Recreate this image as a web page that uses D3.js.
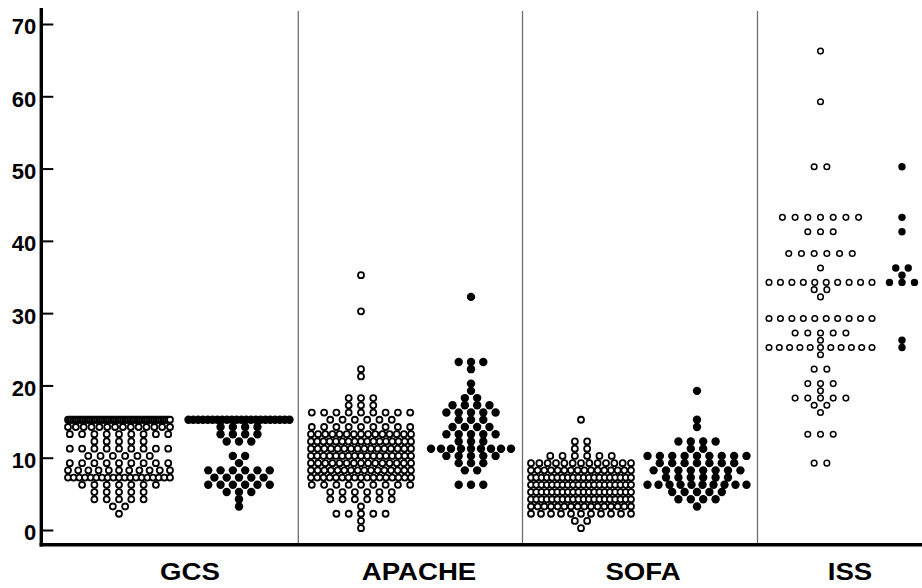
<!DOCTYPE html>
<html>
<head>
<meta charset="utf-8">
<script src="https://cdn.jsdelivr.net/npm/d3@7"></script>
<style>
html, body { margin: 0; padding: 0; background: #fff; }
svg { display: block; font-family: "Liberation Sans", Arial, sans-serif; font-weight: bold; }
</style>
</head>
<body>
<svg id="chart" width="922" height="588"></svg>
<script>
// DATA ---------------------------------------------------------------
const categories = ["GCS", "APACHE", "SOFA", "ISS"];
const yTickValues = [0, 10, 20, 30, 40, 50, 60, 70];

// [score, number of patients]; open = first group, filled = second group
const gcsOpen = [[15,60],[14,14],[13,9],[12,5],[11,9],[10,6],[9,9],[8,11],[7,19],[6,7],[5,5],[4,5],[3,2],[2,1]];
const gcsFilled = [[15,22],[14,4],[13,4],[12,3],[10,2],[9,1],[8,6],[7,5],[6,6],[5,3],[4,1],[3,1]];
const apacheOpen = [[35,1],[30,1],[22,1],[21,1],[18,3],[17,3],[16,9],[15,6],[14,9],[13,15],[12,17],[11,16],[10,17],[9,15],[8,16],[7,17],[6,9],[5,6],[4,6],[3,1],[2,5],[1,1],[0,1]];
const apacheFilled = [[32,1],[23,3],[22,1],[20,1],[19,1],[18,2],[17,4],[16,5],[15,3],[14,4],[13,5],[12,3],[11,9],[10,5],[9,3],[8,2],[6,3]];
const sofaOpen = [[15,1],[12,2],[11,2],[10,6],[9,13],[8,16],[7,20],[6,20],[5,20],[4,20],[3,16],[2,11],[1,2],[0,1]];
const sofaFilled = [[19,1],[15,1],[14,1],[12,4],[11,2],[10,9],[9,7],[8,8],[7,6],[6,10],[5,5],[4,4],[3,1]];
const issOpen = [[66,1],[59,1],[50,2],[43,7],[41,3],[38,6],[36,1],[34,10],[33,2],[32,1],[29,10],[27,5],[26,1],[25,11],[24,1],[22,2],[20,3],[19,1],[18,5],[17,2],[16,1],[13,3],[9,2]];
const issFilled = [[50,1],[43,1],[41,1],[36,2],[35,1],[34,3],[26,1],[25,1]];

// LAYOUT -------------------------------------------------------------
const svg = d3.select("#chart");
const axisX = 41.3;
const baseY = 544.7;
const binShift = 0.25; // dot plot bins sit a bit above the integer

const y = d3.scaleLinear().domain([0, 70]).range([530, 24]);
const xLabel = d3.scaleOrdinal().domain(categories).range([190, 419, 643, 850]);
const dividers = [298.3, 522.5, 757.5];

// one entry per dot column: where it sits and how the dots look
const groups = [
    {data: gcsOpen,      filled: false, cx: 119,   step: 12.3, maxW: 102, r: 3.0, sw: 1.8},
    {data: gcsFilled,    filled: true,  cx: 239,   step: 12.3, maxW: 101, r: 4.2, sw: 0},
    {data: apacheOpen,   filled: false, cx: 361,   step: 12.3, maxW: 100, r: 3.0, sw: 1.8},
    {data: apacheFilled, filled: true,  cx: 471,   step: 12.3, maxW: 80,  r: 4.2, sw: 0},
    {data: sofaOpen,     filled: false, cx: 581,   step: 12.3, maxW: 100, r: 3.0, sw: 1.8},
    {data: sofaFilled,   filled: true,  cx: 697,   step: 12.4, maxW: 99,  r: 4.2, sw: 0},
    {data: issOpen,      filled: false, cx: 820.5, step: 12.7, maxW: 103, r: 2.8, sw: 1.5},
    {data: issFilled,    filled: true,  cx: 902,   step: 12.5, maxW: 100, r: 3.7, sw: 0}
];

// panel dividers
svg.append("g")
    .selectAll("line")
    .data(dividers)
    .enter()
    .append("line")
    .attr("x1", d => d).attr("x2", d => d)
    .attr("y1", 11).attr("y2", baseY)
    .attr("stroke", "#6e6e6e")
    .attr("stroke-width", 1.3);

// DOTS ---------------------------------------------------------------
groups.forEach(g => {
    let dots = [];
    g.data.forEach(([v, n]) => {
        const s = n > 1 ? Math.min(g.step, g.maxW / (n - 1)) : 0;
        for (let i = 0; i < n; i++) {
            dots.push({v: v, dx: (i - (n - 1) / 2) * s});
        }
    });
    svg.append("g")
        .selectAll("circle")
        .data(dots)
        .enter()
        .append("circle")
        .attr("cx", d => g.cx + d.dx)
        .attr("cy", d => y(d.v + binShift))
        .attr("r", g.r)
        .attr("fill", g.filled ? "#000" : "#fff")
        .attr("stroke", g.filled ? "none" : "#000")
        .attr("stroke-width", g.sw);
});

// AXES ---------------------------------------------------------------
const yAxis = svg.append("g")
    .attr("transform", `translate(${axisX},0)`)
    .call(d3.axisLeft(y).tickValues(yTickValues).tickSizeInner(-12).tickSizeOuter(0).tickPadding(5));
yAxis.select(".domain").remove();
yAxis.selectAll(".tick line").attr("stroke", "#000").attr("stroke-width", 2);
yAxis.selectAll(".tick text")
    .attr("fill", "#000")
    .attr("font-size", 22)
    .attr("font-family", "\"Liberation Sans\", Arial, sans-serif")
    .attr("font-weight", "bold")
    .attr("dy", "0.45em");

svg.append("line")
    .attr("x1", axisX).attr("x2", axisX)
    .attr("y1", 8).attr("y2", baseY + 1.7)
    .attr("stroke", "#000").attr("stroke-width", 3.4);

svg.append("line")
    .attr("x1", axisX - 1.7).attr("x2", 922)
    .attr("y1", baseY).attr("y2", baseY)
    .attr("stroke", "#000").attr("stroke-width", 3.4);

// category names under the x axis
svg.append("g")
    .selectAll("text")
    .data(categories)
    .enter()
    .append("text")
    .attr("transform", d => `translate(${xLabel(d)},580) scale(1.15,1)`)
    .attr("text-anchor", "middle")
    .attr("font-size", 24)
    .attr("fill", "#000")
    .text(d => d);
</script>
</body>
</html>
